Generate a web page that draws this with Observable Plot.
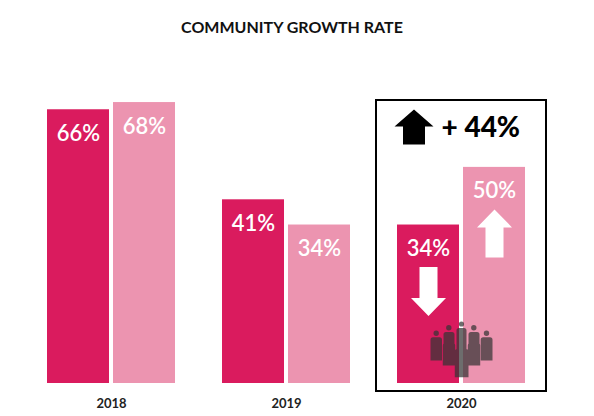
<!DOCTYPE html>
<html>
<head>
<meta charset="utf-8">
<script src="https://cdn.jsdelivr.net/npm/d3@7"></script>
<script src="https://cdn.jsdelivr.net/npm/@observablehq/plot@0.6"></script>
<style>
  html, body { margin: 0; padding: 0; background: #fff; overflow: hidden; }
  #title { height: 50px; line-height: 54px; text-align: center; padding-right: 10px;
           font-family: Lato, sans-serif; font-weight: bold; font-size: 16px; color: #111; }
</style>
</head>
<body>
<div id="title">COMMUNITY GROWTH RATE</div>
<div id="chart"></div>
<script>
// ---- data ----
const years = ["2018", "2019", "2020"];
const seriesA = [66, 41, 34];          // dark bars
const seriesB = [68, 34, 50];          // light bars
const trendA = [null, null, "down"];
const trendB = [null, null, "up"];
const highlightYear = "2020";
const highlightText = "+ 44%";
const yDomain = [-10, 76.9];           // infographic bars do not start at zero height

const colorA = "#DA1B5E";
const colorB = "#EC94B0";

const base = yDomain[0];
const rows = years.map((year, i) => ({year, a: seriesA[i], b: seriesB[i], ta: trendA[i], tb: trendB[i]}));
const highlight = [{year: highlightYear, text: highlightText}];

function blockArrow(dir, headW, shaftW, len, headH) {
  return {
    draw(ctx) {
      const s = dir === "up" ? -1 : 1;
      const h = len / 2;
      const tipY = s * h, baseY = s * (h - headH), tailY = -s * h;
      ctx.moveTo(0, tipY);
      ctx.lineTo(headW / 2, baseY);
      ctx.lineTo(shaftW / 2, baseY);
      ctx.lineTo(shaftW / 2, tailY);
      ctx.lineTo(-shaftW / 2, tailY);
      ctx.lineTo(-shaftW / 2, baseY);
      ctx.lineTo(-headW / 2, baseY);
      ctx.closePath();
    }
  };
}

// group-of-people icon: [headX, headY, headR, bodyX0, bodyX1, bodyY0, bodyY1]
const peopleShape = [
  [-25.3, -17.3, 2.7, -31, -19.5, -13.3, 10],
  [25.0, -17.3, 2.7, 19.2, 31, -13.3, 10],
  [-12.7, -22.7, 2.7, -18, -7, -18.5, 5],
  [12.3, -22.7, 2.7, 7, 18, -18.5, 5],
  [0, -26.5, 2.6, -5, 5, -22.5, 0],
  [-12.7, -11.7, 3.0, -18.7, -6.3, -7.5, 15],
  [12.3, -11.7, 3.0, 6.3, 18.7, -7.5, 15],
  [0, -6.7, 3.1, -6.7, 7, -1.5, 26.7]
];
const peopleSymbol = {
  draw(ctx) {
    for (const [hx, hy, r, x0, x1, y0, y1] of peopleShape) {
      ctx.moveTo(hx + r, hy);
      ctx.arc(hx, hy, r, 0, 2 * Math.PI);
      const rr = 2.5;
      ctx.moveTo(x0 + rr, y0);
      ctx.lineTo(x1 - rr, y0);
      ctx.arcTo(x1, y0, x1, y0 + rr, rr);
      ctx.lineTo(x1, y1);
      ctx.lineTo(x0, y1);
      ctx.lineTo(x0, y0 + rr);
      ctx.arcTo(x0, y0, x0 + rr, y0, rr);
      ctx.closePath();
    }
  }
};

const upWhite = blockArrow("up", 35, 18, 48, 18);
const downWhite = blockArrow("down", 35, 18, 49, 18);
const upBlack = blockArrow("up", 39, 22, 35, 17);

const plot = Plot.plot({
  width: 594,
  height: 366,
  marginLeft: 46,
  marginRight: 67,
  marginTop: 20,
  marginBottom: 33,
  style: {fontFamily: "Lato, sans-serif", background: "white"},
  x: {domain: years, paddingInner: 0.267, paddingOuter: 0, axis: null},
  y: {domain: yDomain, axis: null},
  marks: [
    Plot.barY(rows, {x: "year", y1: base, y2: "a", fill: colorA, insetRight: 66}),
    Plot.barY(rows, {x: "year", y1: base, y2: "b", fill: colorB, insetLeft: 66}),
    Plot.text(rows, {x: "year", y: "a", text: d => d.a + "%", dx: -33, dy: 24, fill: "white", fontSize: 22, fontWeight: 600}),
    Plot.text(rows, {x: "year", y: "b", text: d => d.b + "%", dx: 33, dy: 24, fill: "white", fontSize: 22, fontWeight: 600}),
    Plot.dot(rows.filter(d => d.ta === "down"), {x: "year", y: "a", dx: -33, dy: 66.5, symbol: downWhite, fill: "white", stroke: "none"}),
    Plot.dot(rows.filter(d => d.tb === "up"), {x: "year", y: "b", dx: 33, dy: 66, symbol: upWhite, fill: "white", stroke: "none"}),
    Plot.dot(highlight, {x: "year", frameAnchor: "bottom", dy: -33, symbol: peopleSymbol, fill: "#353535", fillOpacity: 0.72, stroke: "none"}),
    Plot.cell(highlight, {x: "year", fill: "none", stroke: "black", strokeWidth: 2,
      insetLeft: -21, insetRight: -21, insetTop: 30, insetBottom: -8}),
    Plot.dot(highlight, {x: "year", frameAnchor: "top", dx: -47.5, dy: 56.5, symbol: upBlack, fill: "black", stroke: "none"}),
    Plot.text(highlight, {x: "year", frameAnchor: "top", lineAnchor: "middle", text: "text", dx: -20, dy: 58, textAnchor: "start",
      fontSize: 28, fontWeight: 900, fill: "black"}),
    Plot.axisX({tickSize: 0, tickPadding: 15, fontSize: 13, fontWeight: "bold", fill: "#222", label: null})
  ]
});
document.getElementById("chart").appendChild(plot);
</script>
</body>
</html>
